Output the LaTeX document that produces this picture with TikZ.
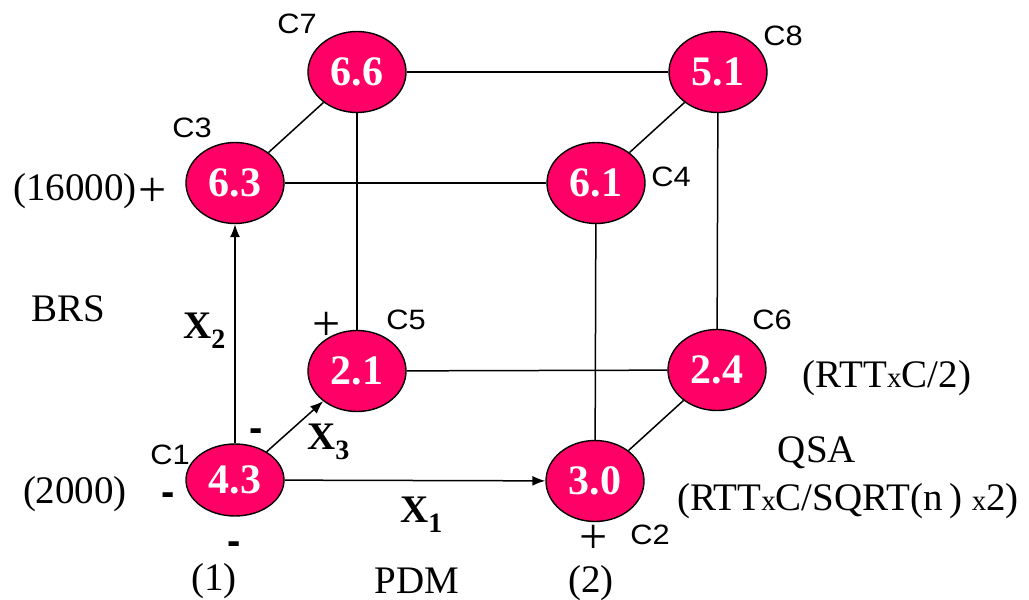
\documentclass[tikz,border=0pt]{standalone}
\usepackage{graphicx}
\usepackage{fontspec}
\setmainfont{Liberation Serif}
\newfontfamily\arialf{Liberation Sans}
\usetikzlibrary{shapes.geometric,arrows.meta}
\definecolor{pinkc}{RGB}{255,0,102}
\newcommand{\smx}{{\fontsize{29}{29}\selectfont x}}
\newcommand{\xsub}[2]{\textbf{X}\raisebox{-10pt}{\fontsize{28}{28}\selectfont\textbf{#1}}}
\begin{document}
\begin{tikzpicture}[x=1pt,y=-1pt,
  cell/.style={ellipse,draw=black,line width=1.4pt,fill=pinkc,minimum width=98pt,minimum height=81pt,inner sep=0pt,text=white,font=\fontsize{42}{42}\selectfont\bfseries},
  edge/.style={line width=1.5pt},
  arr/.style={edge,-{Latex[length=13pt,width=10pt]}},
  cname/.style={font=\arialf\fontsize{28}{28}\selectfont,inner sep=0pt},
  lbl/.style={font=\fontsize{39}{39}\selectfont,inner sep=0pt,anchor=base},
  plus/.style={font=\fontsize{50}{50}\selectfont,inner sep=0pt,anchor=base,text height=26pt,text depth=0pt},
  xlbl/.style={font=\fontsize{39}{39}\selectfont,inner sep=0pt,anchor=base west},
  minus/.style={font=\arialf\bfseries\fontsize{40}{40}\selectfont,inner sep=0pt,anchor=base}
]
\useasboundingbox (0,0) rectangle (1029,600);
% cells
\node[cell,minimum height=72pt] (c1) at (235,480) {4.3};
\node[cell] (c2) at (595,481) {3.0};
\node[cell] (c3) at (235,183) {6.3};
\node[cell] (c4) at (596,183) {6.1};
\node[cell] (c5) at (357,371) {2.1};
\node[cell] (c6) at (717,370) {2.4};
\node[cell] (c7) at (357,72) {6.6};
\node[cell] (c8) at (718,72) {5.1};
% connectors
\draw[arr] (c1) -- (c2);
\draw[arr] (c1) -- (c3);
\draw[arr] (c1) -- (c5);
\draw[edge] (c3) -- (c4);
\draw[edge] (c3) -- (c7);
\draw[edge] (c7) -- (c8);
\draw[edge] (c4) -- (c8);
\draw[edge] (c4) -- (c2);
\draw[edge] (c2) -- (c6);
\draw[edge] (c6) -- (c8);
\draw[edge] (c5) -- (c6);
\draw[edge] (c5) -- (c7);
% cell names
\node[cname] (n1) at (170,455) {\scalebox{1.1}[1]{C1}};
\node[cname] (n2) at (650,535) {\scalebox{1.1}[1]{C2}};
\node[cname] (n3) at (192,128) {\scalebox{1.1}[1]{C3}};
\node[cname] (n4) at (671,177) {\scalebox{1.1}[1]{C4}};
\node[cname] (n5) at (406,320) {\scalebox{1.1}[1]{C5}};
\node[cname] (n6) at (772,320) {\scalebox{1.1}[1]{C6}};
\node[cname] (n7) at (297,24) {\scalebox{1.1}[1]{C7}};
\node[cname] (n8) at (783,36) {\scalebox{1.1}[1]{C8}};
% level labels
\node[lbl] (l16000) at (75,200) {(16000)};
\node[plus] (p3) at (153,206) {+};
\node[lbl] (brs) at (68,321) {BRS};
\node[lbl] (l2000) at (75,503) {(2000)};
\node[minus] (m1) at (168,505) {-};
\node[minus] (m2) at (256,441) {-};
\node[minus] (m3) at (234,554) {-};
\node[lbl] (one) at (214,590) {(1)};
\node[lbl] (pdm) at (417,593) {PDM};
\node[lbl] (two) at (591,592) {(2)};
\node[plus] (p5) at (327,340) {+};
\node[plus] (p2) at (594,553) {+};
\node[lbl] (qsa) at (817,462) {QSA};
\node[lbl] (qsaf) at (848,510) {(RTT\smx C/SQRT(n\,) \smx2)};
\node[lbl] (rtt) at (887,387) {(RTT\smx C/2)};
% factor labels
\node[xlbl] (x2) at (183,338) {\xsub{2}{}};
\node[xlbl] (x3) at (307,449) {\xsub{3}{}};
\node[xlbl] (x1) at (400,522) {\xsub{1}{}};
\end{tikzpicture}
\end{document}
